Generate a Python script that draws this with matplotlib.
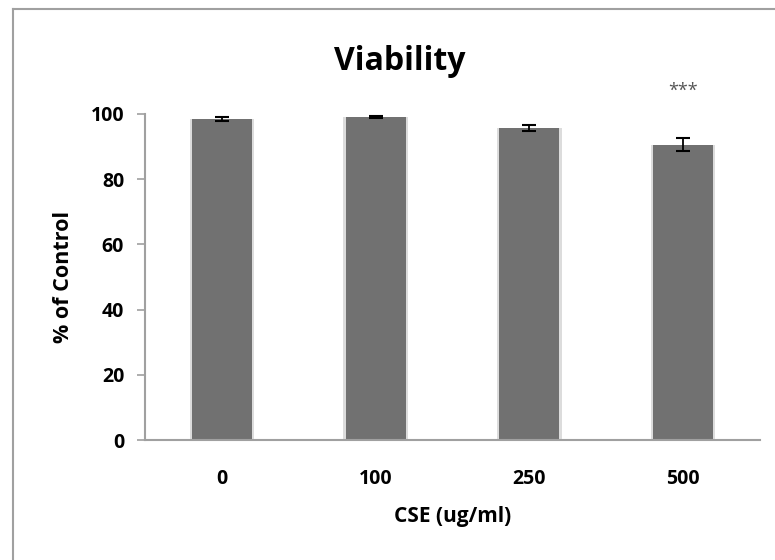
import matplotlib
matplotlib.use("Agg")
import matplotlib.pyplot as plt
from matplotlib.lines import Line2D

categories = ["0", "100", "250", "500"]
values = [98.5, 99.0, 95.7, 90.6]
errors = [0.5, 0.3, 0.8, 2.0]
sig_labels = ["", "", "", "***"]
yticks = [0, 20, 40, 60, 80, 100]

plt.rcParams['font.family'] = ['Open Sans', 'DejaVu Sans']

fig = plt.figure(figsize=(7.75, 5.6), dpi=100)
ax = fig.add_axes([145/775, 1-440/560, (760-145)/775, (440-114)/560])

x = range(len(categories))
ax.bar(x, values, width=0.42, color='#dcdcdc', zorder=1)
ax.bar(x, values, width=0.39, color='#717171', zorder=2)
ax.errorbar(x, values, yerr=errors, fmt='none', ecolor='black', elinewidth=1.3,
            capsize=5, capthick=1.5, zorder=3)
for xi, v, e, s in zip(x, values, errors, sig_labels):
    if s:
        ax.text(xi, 107, s, ha='center', va='center', fontsize=13, color='#555555', clip_on=False)

ax.set_xlim(-0.5, len(categories) - 0.5)
ax.set_ylim(0, 100)
ax.set_xticks(list(x))
ax.set_xticklabels(categories, fontsize=14, fontweight='bold')
ax.set_yticks(yticks)
ax.set_yticklabels([str(t) for t in yticks], fontsize=14, fontweight='bold')
ax.tick_params(axis='x', length=0, pad=21)
ax.tick_params(axis='y', length=6, width=1.2, color='#a0a0a0', pad=9, direction='out')
for sp in ['top', 'right']:
    ax.spines[sp].set_visible(False)
for sp in ['left', 'bottom']:
    ax.spines[sp].set_color('#a0a0a0')
    ax.spines[sp].set_linewidth(1.5)

ax.set_xlabel("CSE (ug/ml)", fontsize=15, fontweight='bold', labelpad=12)
ax.set_ylabel("% of Control", fontsize=15.5, fontweight='bold', labelpad=12)
fig.text(400/775, 1-62/560, "Viability", ha='center', va='center', fontsize=23, fontweight='bold')

# partial frame (top and left border)
fig.add_artist(Line2D([13/775, 13/775], [0, 1-9/560], color='#a0a0a0', lw=1.5, transform=fig.transFigure))
fig.add_artist(Line2D([13/775, 1], [1-9/560, 1-9/560], color='#a0a0a0', lw=1.5, transform=fig.transFigure))

fig.savefig("out.png", dpi=100)
